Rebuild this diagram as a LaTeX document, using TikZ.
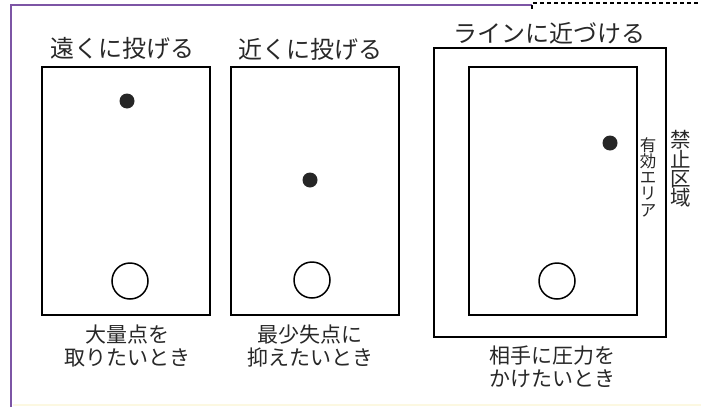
\documentclass[tikz,border=0pt]{standalone}
\usepackage{fontspec}
\newfontfamily\jp{Noto Sans CJK JP}
\definecolor{frameviolet}{RGB}{125,85,165}
\definecolor{txt}{RGB}{40,40,40}
\definecolor{paleyellow}{RGB}{252,248,225}
\tikzset{
  court/.style={draw=black, line width=1.8pt},
  ball/.style={circle, fill=black!85, inner sep=0pt, minimum size=15pt},
  ring/.style={circle, draw=black, line width=1.5pt, inner sep=0pt, minimum size=36pt},
  title/.style={font=\jp\fontsize{24}{28}\selectfont, text=txt, inner sep=0pt},
  caption/.style={font=\jp\fontsize{21}{22.5}\selectfont, text=txt, align=center, inner sep=0pt},
  vsmall/.style={font=\jp\fontsize{16.5}{16.3}\selectfont, text=txt, align=center, inner sep=0pt},
  vlarge/.style={font=\jp\fontsize{20.5}{18.5}\selectfont, text=txt, align=center, inner sep=0pt}
}
\begin{document}
\begin{tikzpicture}[x=1pt,y=-1pt]
\useasboundingbox (0,0) rectangle (701,407);
\fill[white] (0,0) rectangle (701,407);
% frame
\draw[frameviolet, line width=2pt] (11,407) -- (11,5) -- (532,5);
\draw[black, line width=1.4pt, dash pattern=on 4pt off 3pt] (532,9) -- (532,3) -- (701,3);
\draw[paleyellow, line width=2pt] (13,405) -- (701,405);
% panel 1
\node[court, minimum width=168pt, minimum height=248pt, inner sep=0pt] (c1) at (126,191) {};
\node[ball] (b1) at (127,101) {};
\node[ring] (r1) at (130,281) {};
\node[title] (t1) at (122,48) {遠くに投げる};
\node[caption] (k1) at (127,346) {大量点を\\取りたいとき};
% panel 2
\node[court, minimum width=168pt, minimum height=248pt, inner sep=0pt] (c2) at (315,191) {};
\node[ball] (b2) at (310,180) {};
\node[ring] (r2) at (312,280) {};
\node[title] (t2) at (310,49) {近くに投げる};
\node[caption] (k2) at (310,346) {最少失点に\\抑えたいとき};
% panel 3
\node[court, minimum width=232pt, minimum height=289pt, inner sep=0pt] (o3) at (550,192.5) {};
\node[court, minimum width=168pt, minimum height=248pt, inner sep=0pt] (c3) at (553,191) {};
\node[ball] (b3) at (610,143) {};
\node[ring] (r3) at (557,281) {};
\node[title] (t3) at (549,33) {ラインに近づける};
\node[caption] (k3) at (552,367) {相手に圧力を\\かけたいとき};
\node[vsmall] (v1) at (648,177) {有\\効\\エ\\リ\\ア};
\node[vlarge] (v2) at (681,169) {禁\\止\\区\\域};
\end{tikzpicture}
\end{document}
